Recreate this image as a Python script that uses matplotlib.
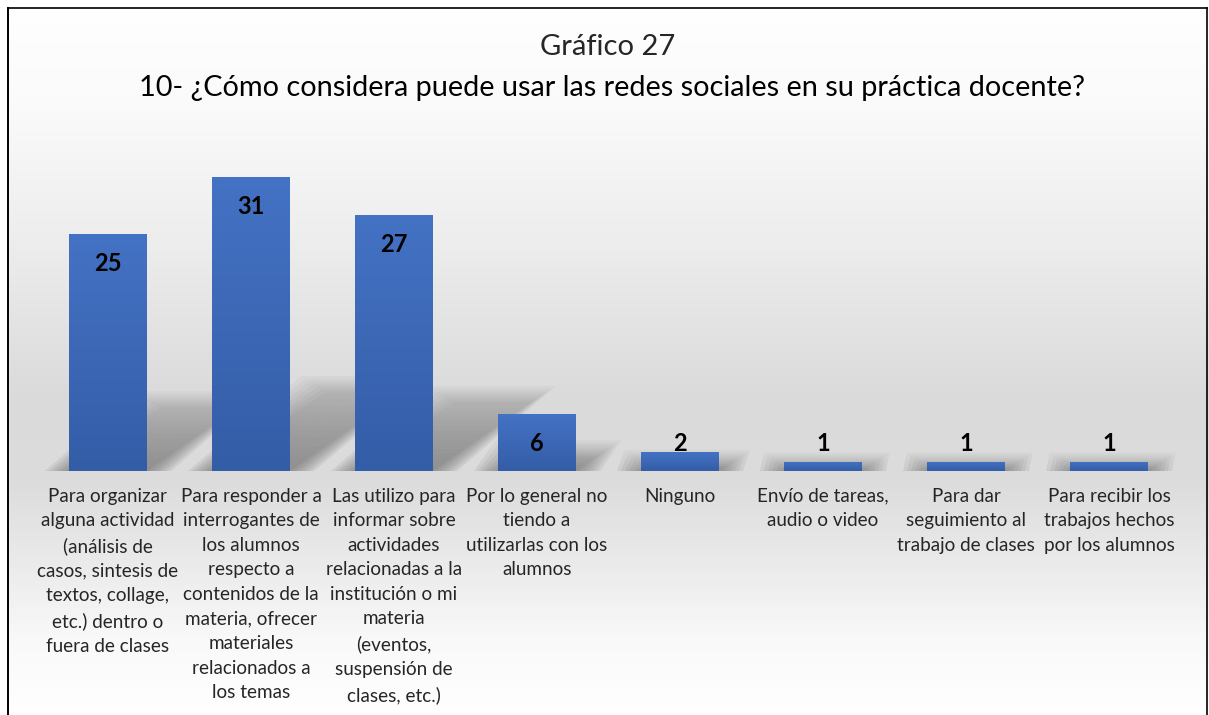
import numpy as np
import matplotlib
matplotlib.use("Agg")
import matplotlib.pyplot as plt
from matplotlib.patches import Polygon
from matplotlib.lines import Line2D

plt.rcParams['font.family'] = ['Lato', 'DejaVu Sans']

titulo = "Gráfico 27"
pregunta = "10- ¿Cómo considera puede usar las redes sociales en su práctica docente?"

categorias = [
    "Para organizar\nalguna actividad\n(análisis de\ncasos, sintesis de\ntextos, collage,\netc.) dentro o\nfuera de clases",
    "Para responder a\ninterrogantes de\nlos alumnos\nrespecto a\ncontenidos de la\nmateria, ofrecer\nmateriales\nrelacionados a\nlos temas",
    "Las utilizo para\ninformar sobre\nactividades\nrelacionadas a la\ninstitución o mi\nmateria\n(eventos,\nsuspensión de\nclases, etc.)",
    "Por lo general no\ntiendo a\nutilizarlas con los\nalumnos",
    "Ninguno",
    "Envío de tareas,\naudio o video",
    "Para dar\nseguimiento al\ntrabajo de clases",
    "Para recibir los\ntrabajos hechos\npor los alumnos",
]
valores = [25, 31, 27, 6, 2, 1, 1, 1]

W, H = 1209, 715
fig = plt.figure(figsize=(W / 100, H / 100), dpi=100)

# fondo con degradado vertical
bg = fig.add_axes([0, 0, 1, 1], zorder=-10)
bg.axis('off')
stops_y = [0, 110, 250, 400, 480, 560, 640, 715]
stops_c = [255, 250, 236, 218, 220, 234, 249, 255]
yy = np.arange(H)
g = np.interp(yy, stops_y, stops_c) / 255.0
img = np.repeat(g[:, None], 4, axis=1)
img = np.dstack([img, img, img])
bg.imshow(img, extent=[0, W, H, 0], aspect='auto')
bg.fill_between([0, W], 0, 8, color='white')
bg.fill_between([0, 8], 0, H, color='white')
bg.set_xlim(0, W)
bg.set_ylim(H, 0)

# marco
fig.add_artist(Line2D([8 / W, 8 / W], [0, 1 - 8 / H], color='black', lw=1.4, transform=fig.transFigure))
fig.add_artist(Line2D([8 / W, 1207 / W], [1 - 8 / H, 1 - 8 / H], color='black', lw=1.2, transform=fig.transFigure))
fig.add_artist(Line2D([1207 / W, 1207 / W], [0, 1 - 8 / H], color='black', lw=1.2, transform=fig.transFigure))

fig.text(608 / W, 1 - 47 / H, titulo, ha='center', va='center', fontsize=21, color='#262626')
fig.text(612 / W, 1 - 88 / H, pregunta, ha='center', va='center', fontsize=20.8, color='black')

ax = fig.add_axes([36.5 / W, (H - 471) / H, 1144 / W, (35 * 9.48) / H])
ax.patch.set_alpha(0)
for s in ax.spines.values():
    s.set_visible(False)

x = np.arange(len(valores))
bars = ax.bar(x, valores, width=0.545, color='#3d68b8', zorder=3)

# degradado de las barras y sombras
grad = np.linspace(0, 1, 100)[:, None]
top_c = np.array([68, 114, 196]) / 255
bot_c = np.array([52, 93, 167]) / 255
bar_img = top_c[None, None, :] * (1 - grad[:, :, None]) + bot_c[None, None, :] * grad[:, :, None]
for b, v in zip(bars, valores):
    x0, w = b.get_x(), b.get_width()
    im = ax.imshow(bar_img, extent=[x0, x0 + w, 0, v], aspect='auto', zorder=3.5)
    im.set_clip_path(b)
    # sombra en perspectiva (capas para simular desenfoque)
    h = 0.27 * v
    sx = 0.095 * h
    for k in range(7):
        e = 0.028 * k
        ey = 0.28 * k
        poly = Polygon([(x0 - e, 0), (x0 + w + e, 0), (x0 + w + sx + e, h + ey), (x0 + sx - e, h + ey)],
                       closed=True, facecolor='none', edgecolor='none')
        ax.add_patch(poly)
        sh = np.zeros((100, 1, 4))
        sh[:, :, :3] = 0.4
        sh[:, 0, 3] = 0.13 * np.linspace(0.2, 1, 100) ** 0.7
        sim = ax.imshow(sh, extent=[x0 - e, x0 + w + sx + e, 0, h + ey], aspect='auto', zorder=2)
        sim.set_clip_path(poly)

for xi, v in zip(x, valores):
    ax.text(xi, max(v - 3.06, 2.94), str(v), ha='center', va='center',
            fontsize=17, fontweight='bold', color='black', zorder=5)

ax.set_xlim(-0.5, len(valores) - 0.5)
ax.set_ylim(0, 35)
ax.set_yticks([])
ax.set_xticks(x)
ax.set_xticklabels(categorias, fontsize=13.6, color='#262626', linespacing=1.54, va='top')
ax.tick_params(axis='x', length=0, pad=12)

fig.savefig("out.png", dpi=100)
